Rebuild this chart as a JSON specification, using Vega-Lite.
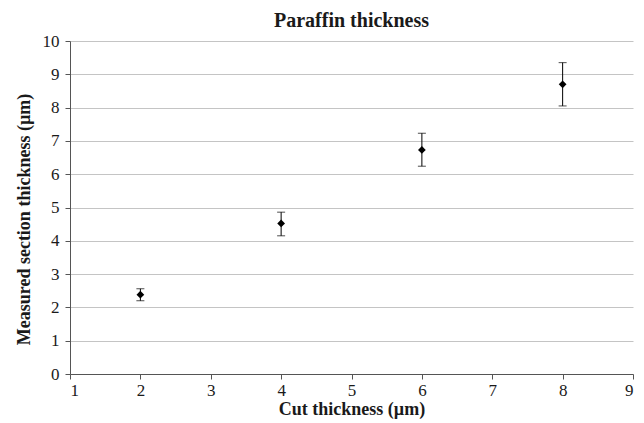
{
  "$schema": "https://vega.github.io/schema/vega-lite/v6.json",
  "autosize": "none",
  "width": 563,
  "height": 333,
  "padding": {"left": 70, "top": 41, "right": 11, "bottom": 49},
  "background": "white",
  "title": {
    "text": "Paraffin thickness",
    "font": "Liberation Serif, DejaVu Serif, serif",
    "fontSize": 20,
    "fontWeight": "bold",
    "color": "#1a1a1a",
    "anchor": "middle",
    "offset": 1
  },
  "config": {
    "view": {"stroke": null},
    "axis": {
      "labelFont": "Liberation Serif, DejaVu Serif, serif",
      "labelFontSize": 17,
      "labelColor": "#1a1a1a",
      "labelOverlap": false,
      "titleFont": "Liberation Serif, DejaVu Serif, serif",
      "titleFontSize": 18,
      "titleFontWeight": "bold",
      "titleColor": "#1a1a1a",
      "domainColor": "#555555",
      "tickColor": "#555555",
      "gridColor": "#c4c4c4",
      "tickSize": 5
    }
  },
  "data": {
    "values": [
      {"cut": 2, "measured": 2.38, "lo": 2.2, "hi": 2.56},
      {"cut": 4, "measured": 4.52, "lo": 4.15, "hi": 4.86},
      {"cut": 6, "measured": 6.73, "lo": 6.24, "hi": 7.23},
      {"cut": 8, "measured": 8.70, "lo": 8.05, "hi": 9.35}
    ]
  },
  "encoding": {
    "x": {"field": "cut", "type": "quantitative",
          "scale": {"domain": [1, 9], "nice": false},
          "axis": {"title": "Cut thickness (µm)", "values": [1,2,3,4,5,6,7,8,9], "format": "d", "grid": false, "labelPadding": 3, "titlePadding": 2}}
  },
  "layer": [
    {
      "mark": {"type": "rule", "color": "black", "strokeWidth": 1},
      "encoding": {
        "y": {"field": "lo", "type": "quantitative",
              "scale": {"domain": [0, 10], "nice": false},
              "axis": {"title": "Measured section thickness (µm)", "values": [0,1,2,3,4,5,6,7,8,9,10], "format": "d", "grid": true, "labelPadding": 6, "titlePadding": 9, "titleY": 178}},
        "y2": {"field": "hi"}
      }
    },
    {
      "mark": {"type": "tick", "orient": "horizontal", "color": "black", "size": 8, "thickness": 1},
      "encoding": {
        "y": {"field": "lo", "type": "quantitative",
              "scale": {"domain": [0, 10], "nice": false},
              "axis": {"title": "Measured section thickness (µm)", "values": [0,1,2,3,4,5,6,7,8,9,10], "format": "d", "grid": true, "labelPadding": 6, "titlePadding": 9, "titleY": 178}}
      }
    },
    {
      "mark": {"type": "tick", "orient": "horizontal", "color": "black", "size": 8, "thickness": 1},
      "encoding": {
        "y": {"field": "hi", "type": "quantitative",
              "scale": {"domain": [0, 10], "nice": false},
              "axis": {"title": "Measured section thickness (µm)", "values": [0,1,2,3,4,5,6,7,8,9,10], "format": "d", "grid": true, "labelPadding": 6, "titlePadding": 9, "titleY": 178}}
      }
    },
    {
      "mark": {"type": "point", "shape": "diamond", "filled": true, "color": "black", "opacity": 1, "size": 60},
      "encoding": {
        "y": {"field": "measured", "type": "quantitative",
              "scale": {"domain": [0, 10], "nice": false},
              "axis": {"title": "Measured section thickness (µm)", "values": [0,1,2,3,4,5,6,7,8,9,10], "format": "d", "grid": true, "labelPadding": 6, "titlePadding": 9, "titleY": 178}}
      }
    }
  ]
}
